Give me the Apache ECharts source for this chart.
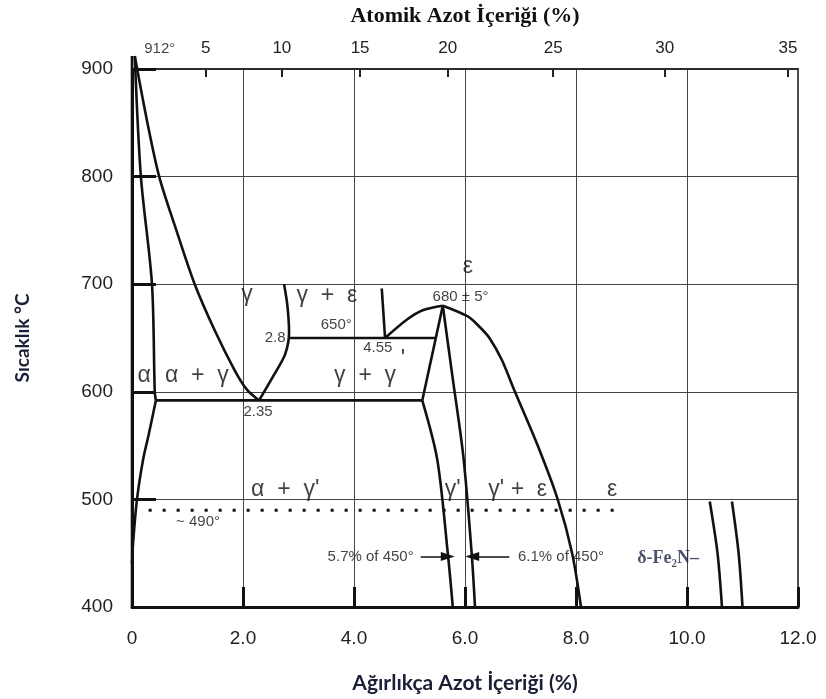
<!DOCTYPE html>
<html>
<head>
<meta charset="utf-8">
<script src="https://cdn.jsdelivr.net/npm/echarts@6.0.0/dist/echarts.min.js"></script>
<style>
  html, body { margin: 0; padding: 0; background: #fff; }
  #chart { width: 826px; height: 699px; }
</style>
</head>
<body>
<div id="chart"></div>
<script>
// bottom axis: weight % N, left axis: temperature in C
const wtTicks = [0, 2, 4, 6, 8, 10, 12]
// top axis: atomic % N, placed where the picture puts them on the wt% scale
const atomicTickLabels = ['5', '10', '15', '20', '25', '30', '35']
const atomicTickWt = [1.33, 2.70, 4.11, 5.69, 7.59, 9.60, 11.82]

// phase boundaries [wt%, C]
const leftEdge = [[0, 400], [0, 912]]
const alphaLine = [[0.05, 912], [0.16, 800], [0.36, 700], [0.41, 600], [0.43, 592]]
const alphaSolvus = [[0.43, 592], [0.3, 560], [0.2, 537], [0.09, 500], [0.02, 460], [0, 440]]
const gammaAlpha = [[0.05, 912], [0.27, 852], [0.49, 800], [0.8, 750], [1.13, 700], [1.5, 656], [1.85, 620], [2.07, 602], [2.29, 592]]
const gammaRight = [[2.29, 592], [2.55, 615], [2.76, 635], [2.83, 655], [2.8, 680], [2.74, 700]]
const eut650 = [[2.83, 650], [5.46, 650]]
const eut590 = [[0.43, 592], [5.23, 592]]
const epsGamma = [[4.5, 696], [4.56, 650]]
const epsDomeLeft = [[4.56, 650], [4.95, 667], [5.25, 676], [5.6, 680]]
const epsDomeRight = [[5.6, 680], [6.05, 670], [6.27, 660], [6.44, 650], [6.66, 630], [6.9, 600], [7.31, 550], [7.67, 500], [7.93, 450], [8.09, 400]]
const gpLeftUpper = [[5.6, 680], [5.23, 592]]
const gpLeftLower = [[5.23, 592], [5.5, 537], [5.69, 450], [5.78, 400]]
const gpRight = [[5.6, 680], [5.78, 612], [5.97, 540], [6.12, 450], [6.18, 400]]
const delta1 = [[10.41, 498], [10.55, 450], [10.63, 400]]
const delta2 = [[10.81, 498], [10.93, 450], [11.0, 400]]
const dotted490 = [[0.3, 490], [8.8, 490]]
const arrowLeft = [[5.2, 447], [5.69, 447]]
const arrowRight = [[6.80, 447], [6.13, 447]]

// text in the diagram [wt%, C, text]
const phaseLabels = [
  [2.07, 690, 'γ'], [3.51, 689, 'γ  +  ε'], [6.05, 716, 'ε'],
  [0.22, 615, 'α'], [1.17, 615, 'α  +  γ'], [4.2, 615, 'γ  +  γ'], [4.88, 630, '\''],
  [2.76, 509, 'α  +  γ\''], [5.78, 509, 'γ\''], [6.95, 509, 'γ\' +  ε'], [8.65, 509, 'ε']
]
const numberLabels = [
  [0.5, 919, '912°'], [5.92, 688, '680 ± 5°'], [3.68, 662, '650°'],
  [2.58, 650, '2.8'], [4.43, 641, '4.55'], [2.27, 581, '2.35'], [1.19, 479, '~ 490°'],
  [4.3, 447, '5.7% of 450°'], [7.73, 447, '6.1% of 450°']
]
const compoundLabels = [[9.66, 445, 'δ-Fe₂N–']]

const chart = echarts.init(document.getElementById('chart'))

function boundary (data, smooth) {
  return {
    type: 'line',
    data: data,
    showSymbol: false,
    smooth: smooth ? 0.3 : false,
    clip: false,
    silent: true,
    lineStyle: { color: '#111', width: 2.6 }
  }
}

function textSeries (data, label) {
  return {
    type: 'scatter',
    data: data,
    symbolSize: 0,
    clip: false,
    silent: true,
    label: Object.assign({
      show: true,
      position: [0, 0],
      align: 'center',
      verticalAlign: 'middle',
      formatter: p => p.value[2]
    }, label)
  }
}

const option = {
  animation: false,
  backgroundColor: '#fff',
  grid: {
    left: 132, right: 28, top: 68, bottom: 91,
    show: true, borderColor: '#222', borderWidth: 1.5
  },
  xAxis: [
    {
      type: 'value', min: 0, max: 12, interval: 2, position: 'bottom',
      name: 'Ağırlıkça Azot İçeriği (%)', nameLocation: 'middle', nameGap: 66,
      nameTextStyle: { fontFamily: 'Lato', fontWeight: 'bold', fontSize: 21, color: '#1b1f36' },
      axisLine: { lineStyle: { color: '#111', width: 3 } },
      axisTick: { inside: true, length: 20, lineStyle: { color: '#111', width: 3 } },
      axisLabel: {
        margin: 22, fontSize: 19, color: '#222', fontFamily: 'Liberation Sans',
        formatter: v => v === 0 ? '0' : v.toFixed(1)
      },
      splitLine: { show: true, lineStyle: { color: '#444', width: 1 } }
    },
    {
      type: 'value', min: 0, max: 12, position: 'top',
      name: 'Atomik Azot İçeriği (%)', nameLocation: 'middle', nameGap: 42,
      nameTextStyle: { fontFamily: 'Liberation Serif', fontWeight: 'bold', fontSize: 22, color: '#111' },
      axisLine: { lineStyle: { color: '#222', width: 1.5 } },
      axisTick: { inside: true, length: 8, customValues: atomicTickWt, lineStyle: { color: '#222', width: 2 } },
      axisLabel: {
        margin: 12, fontSize: 17, color: '#222', fontFamily: 'Liberation Sans',
        customValues: atomicTickWt,
        formatter: v => atomicTickLabels[atomicTickWt.indexOf(v)]
      },
      splitLine: { show: false }
    }
  ],
  yAxis: {
    type: 'value', min: 400, max: 900, interval: 100,
    name: 'Sıcaklık °C', nameLocation: 'middle', nameGap: 100, nameRotate: 90,
    nameTextStyle: { fontFamily: 'Lato', fontWeight: 'bold', fontSize: 19, color: '#1b1f36' },
    axisLine: { lineStyle: { color: '#111', width: 3 } },
    axisTick: { inside: true, length: 24, lineStyle: { color: '#111', width: 3 } },
    axisLabel: { margin: 19, fontSize: 19, color: '#222', fontFamily: 'Liberation Sans' },
    splitLine: { show: true, lineStyle: { color: '#444', width: 1 } }
  },
  series: [
    boundary(leftEdge, false),
    boundary(alphaLine, true),
    boundary(alphaSolvus, true),
    boundary(gammaAlpha, true),
    boundary(gammaRight, true),
    boundary(eut650, false),
    boundary(eut590, false),
    boundary(epsGamma, false),
    boundary(epsDomeLeft, true),
    boundary(epsDomeRight, true),
    boundary(gpLeftUpper, false),
    boundary(gpLeftLower, true),
    boundary(gpRight, true),
    boundary(delta1, true),
    boundary(delta2, true),
    {
      type: 'line', data: dotted490, showSymbol: false, silent: true,
      lineStyle: { color: '#111', width: 3, type: [3, 11] }
    },
    {
      type: 'line', data: [], silent: true,
      markLine: {
        silent: true, symbol: ['none', 'triangle'], symbolSize: [9, 14],
        label: { show: false },
        lineStyle: { color: '#111', width: 1.5, type: 'solid' },
        data: [
          [{ coord: arrowLeft[0] }, { coord: arrowLeft[1] }],
          [{ coord: arrowRight[0] }, { coord: arrowRight[1] }]
        ]
      }
    },
    textSeries(phaseLabels, { fontSize: 23, color: '#111', fontFamily: 'Liberation Sans' }),
    textSeries(numberLabels, { fontSize: 15, color: '#111', fontFamily: 'Liberation Sans' }),
    textSeries(compoundLabels, { fontSize: 18, fontWeight: 'bold', color: '#1f2747', fontFamily: 'Liberation Serif, DejaVu Serif' })
  ]
}

chart.setOption(option)
</script>
</body>
</html>
